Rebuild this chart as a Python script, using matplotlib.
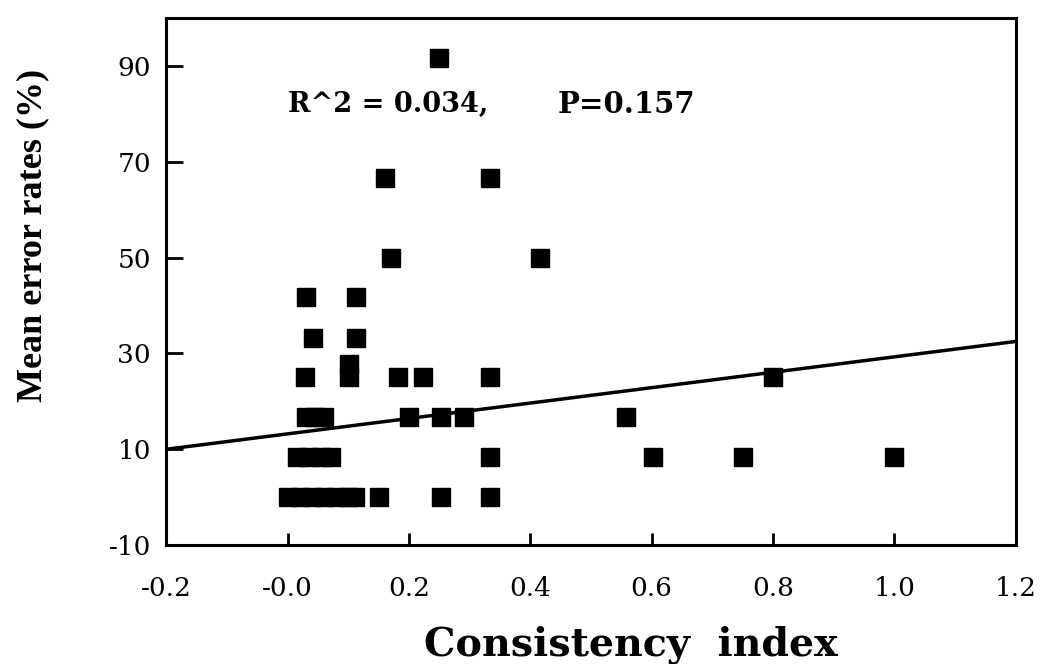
import matplotlib
matplotlib.use("Agg")
import matplotlib.pyplot as plt

# consistency index vs mean error rate (%)
ci = [0.25,
      0.16, 0.334,
      0.17, 0.416,
      0.03, 0.113,
      0.042, 0.113,
      0.101,
      0.029, 0.101, 0.182, 0.223, 0.334, 0.80,
      0.03, 0.045, 0.06, 0.20, 0.253, 0.29, 0.558,
      0.015, 0.035, 0.055, 0.072, 0.334, 0.602, 0.75, 1.0,
      0.0, 0.02, 0.04, 0.06, 0.08, 0.10, 0.112, 0.15, 0.253, 0.334]
err = [91.7,
       66.7, 66.7,
       50.0, 50.0,
       41.7, 41.7,
       33.3, 33.3,
       27.8,
       25.0, 25.0, 25.0, 25.0, 25.0, 25.0,
       16.7, 16.7, 16.7, 16.7, 16.7, 16.7, 16.7,
       8.3, 8.3, 8.3, 8.3, 8.3, 8.3, 8.3, 8.3,
       0.0, 0.0, 0.0, 0.0, 0.0, 0.0, 0.0, 0.0, 0.0, 0.0]

# fitted line ends
fit_x = [-0.2, 1.2]
fit_y = [10.0, 32.5]

xticks = [-0.2, 0.0, 0.2, 0.4, 0.6, 0.8, 1.0, 1.2]
xlabels = ["-0.2", "-0.0", "0.2", "0.4", "0.6", "0.8", "1.0", "1.2"]
yticks = [-10, 10, 30, 50, 70, 90]

plt.rcParams['font.family'] = ['DejaVu Serif']
plt.rcParams['axes.unicode_minus'] = False

fig = plt.figure(figsize=(10.45, 6.64), dpi=100)
ax = fig.add_axes([0.159, 0.179, 0.813, 0.794])

ax.plot(ci, err, 's', color='black', markersize=13, linestyle='none')
ax.plot(fit_x, fit_y, color='black', linewidth=2.5)

ax.set_xlim(-0.2, 1.2)
ax.set_ylim(-10, 100)
ax.set_xticks(xticks)
ax.set_xticklabels(xlabels)
ax.set_yticks(yticks)

for s in ax.spines.values():
    s.set_linewidth(2.2)
ax.tick_params(axis='x', direction='in', length=9, width=2, labelsize=19, pad=22)
ax.tick_params(axis='y', direction='in', length=12, width=2, labelsize=19, pad=11)

ax.set_xlabel("Consistency  index", fontsize=28.5, fontweight='bold')
ax.xaxis.set_label_coords(0.547, -0.152)
ax.set_ylabel("Mean error rates (%)", fontsize=26, fontweight='bold',
              family=['Liberation Serif', 'DejaVu Serif'])
ax.yaxis.set_label_coords(-0.137, 0.588)

ax.text(0.0, 82, "R^2 = 0.034,", fontsize=19.5, fontweight='bold', va='center')
ax.text(0.445, 82, "P=0.157", fontsize=21, fontweight='bold', va='center')

fig.savefig("out.png", dpi=100)
